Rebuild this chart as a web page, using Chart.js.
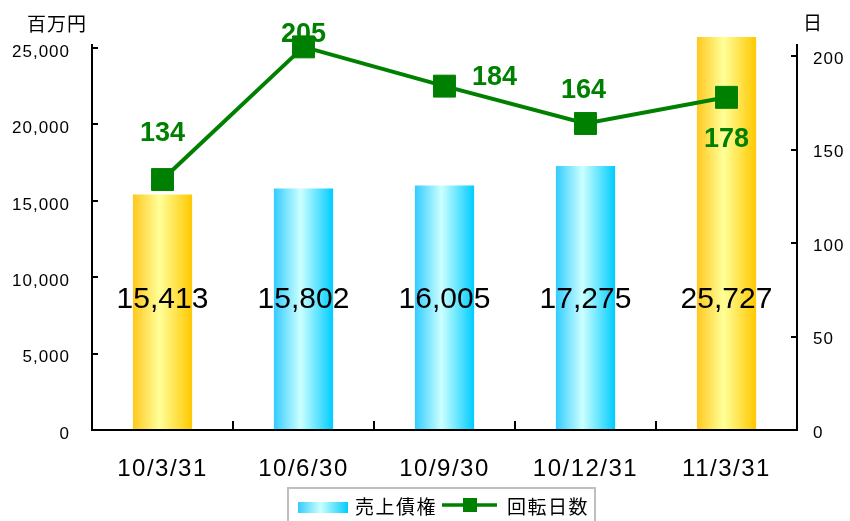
<!DOCTYPE html>
<html lang="ja">
<head>
<meta charset="utf-8">
<title>売上債権・回転日数</title>
<script src="https://cdn.jsdelivr.net/npm/chart.js@4.4.0/dist/chart.umd.min.js"></script>
<style>
    html, body { margin: 0; padding: 0; background: #fff; }
    #chart { display: block; }
</style>
</head>
<body>
<canvas id="chart" width="850" height="521"></canvas>
<script>
// ==========================================
// DATA
// ==========================================

const periods = ["10/3/31", "10/6/30", "10/9/30", "10/12/31", "11/3/31"];

const receivables = [15413, 15802, 16005, 17275, 25727];   // 売上債権 (百万円)

const turnoverDays = [134, 205, 184, 164, 178];            // 回転日数 (日)

const leftTicks = [0, 5000, 10000, 15000, 20000, 25000];

const rightTicks = [0, 50, 100, 150, 200];

// where each day label sits relative to its marker
const dayLabelOffsets = [[0, -46], [0, -12], [50, -9], [-2, -33], [0, 42]];

const BAR_PCT = 0.42;
const LATIN = "'Liberation Sans', Arial, sans-serif";
const CJK = "'Noto Sans CJK JP', sans-serif";

// ==========================================
// HELPERS
// ==========================================

function barGradient(ctx, left, right, yearEnd) {

    const g = ctx.createLinearGradient(left, 0, right, 0);

    if (yearEnd) {
        g.addColorStop(0, "#FFC81E");
        g.addColorStop(0.45, "#FFFF99");
        g.addColorStop(1, "#FFC800");
    } else {
        g.addColorStop(0, "#33CCFF");
        g.addColorStop(0.45, "#CCFFFF");
        g.addColorStop(1, "#00CCFF");
    }

    return g;
}

function line(ctx, x1, y1, x2, y2) {
    ctx.beginPath();
    ctx.moveTo(x1, y1);
    ctx.lineTo(x2, y2);
    ctx.stroke();
}

// ==========================================
// LABELS, INNER TICKS, LEGEND
// ==========================================

const decorPlugin = {

    id: "decor",

    beforeDraw(chart) {
        chart.ctx.letterSpacing = "1px";   // y axis tick labels
    },

    beforeDatasetsDraw(chart) {
        chart.ctx.letterSpacing = "0px";
    },

    afterDatasetsDraw(chart) {

        const ctx = chart.ctx;
        const area = chart.chartArea;
        const barMeta = chart.getDatasetMeta(0);
        const lineMeta = chart.getDatasetMeta(1);

        ctx.save();
        ctx.textAlign = "center";
        ctx.textBaseline = "middle";

        // bar values
        ctx.font = "30px " + LATIN;
        ctx.fillStyle = "#000";
        const barLabelY = area.top + (area.bottom - area.top) * 0.662;
        barMeta.data.forEach((bar, i) => {
            ctx.fillText(receivables[i].toLocaleString("en-US"), bar.x, barLabelY);
        });

        // day values
        ctx.font = "bold 27px " + LATIN;
        ctx.fillStyle = "#008000";
        lineMeta.data.forEach((pt, i) => {
            const off = dayLabelOffsets[i];
            ctx.fillText(String(turnoverDays[i]), pt.x + off[0], pt.y + off[1]);
        });

        ctx.restore();

        // x axis labels (ticks.z: 1) are drawn next
        ctx.letterSpacing = "1.5px";
    },

    afterDraw(chart) {

        const ctx = chart.ctx;
        const area = chart.chartArea;
        const xs = chart.scales.x;
        const yl = chart.scales.y;
        const yr = chart.scales.y1;

        ctx.letterSpacing = "0px";
        ctx.save();

        // inward tick marks
        ctx.strokeStyle = "#000";
        ctx.lineWidth = 2;
        yl.ticks.forEach(t => {
            const py = Math.round(yl.getPixelForValue(t.value));
            line(ctx, area.left, py, area.left + 6, py);
        });
        yr.ticks.forEach(t => {
            const py = Math.round(yr.getPixelForValue(t.value));
            line(ctx, area.right, py, area.right - 6, py);
        });
        for (let i = 1; i < periods.length; i++) {
            const px = Math.round((xs.getPixelForValue(i - 1) + xs.getPixelForValue(i)) / 2);
            line(ctx, px, area.bottom, px, area.bottom - 9);
        }

        // unit titles
        ctx.font = "19px " + CJK;
        ctx.fillStyle = "#000";
        ctx.textAlign = "center";
        ctx.textBaseline = "middle";
        ctx.letterSpacing = "1px";
        ctx.fillText("百万円", 57, 24);
        ctx.fillText("日", 813, 23);

        // legend
        const ds = chart.data.datasets;
        ctx.strokeStyle = "#BFBFBF";
        ctx.lineWidth = 2;
        ctx.strokeRect(288, 488, 307, 44);

        ctx.fillStyle = barGradient(ctx, 298, 348, false);
        ctx.fillRect(298, 502, 50, 11);

        ctx.strokeStyle = "#008000";
        ctx.lineWidth = 3.5;
        line(ctx, 442, 505, 497, 505);
        ctx.fillStyle = "#008000";
        ctx.fillRect(463, 498, 14, 14);

        ctx.fillStyle = "#000";
        ctx.textAlign = "left";
        ctx.letterSpacing = "1.5px";
        ctx.fillText(ds[0].label, 355, 507);
        ctx.fillText(ds[1].label, 507, 507);

        ctx.restore();
    }
};

// ==========================================
// CHART
// ==========================================

const canvas = document.getElementById("chart");

new Chart(canvas, {

    data: {

        labels: periods,

        datasets: [

            {
                type: "bar",
                label: "売上債権",
                data: receivables,
                yAxisID: "y",
                order: 2,
                clip: false,
                borderWidth: 0,
                barPercentage: BAR_PCT,
                categoryPercentage: 1,
                backgroundColor: function (c) {
                    const chart = c.chart;
                    if (c.type !== "data" || !chart.chartArea) {
                        return "#33CCFF";
                    }
                    const xs = chart.scales.x;
                    const cx = xs.getPixelForValue(c.dataIndex);
                    const half = (xs.width / periods.length) * BAR_PCT / 2;
                    const yearEnd = periods[c.dataIndex].endsWith("/3/31");
                    return barGradient(chart.ctx, cx - half, cx + half, yearEnd);
                },
            },

            {
                type: "line",
                label: "回転日数",
                data: turnoverDays,
                yAxisID: "y1",
                order: 1,
                clip: false,
                borderColor: "#008000",
                borderWidth: 4,
                tension: 0,
                pointStyle: "rect",
                pointRadius: 15.5,
                pointBackgroundColor: "#008000",
                pointBorderColor: "#008000",
                pointBorderWidth: 1,
            }

        ]

    },

    options: {

        responsive: false,

        animation: false,

        events: [],

        layout: {
            padding: { top: 45, left: 0, right: 0, bottom: 0 }
        },

        plugins: {
            legend: { display: false },
            tooltip: { enabled: false }
        },

        scales: {

            x: {
                offset: true,
                grid: { display: false, drawTicks: false },
                border: { display: true, color: "#000", width: 2, z: 1 },
                ticks: {
                    z: 1,
                    color: "#000",
                    font: { family: LATIN, size: 24 },
                    padding: 25,
                    maxRotation: 0,
                    autoSkip: false,
                },
                afterFit: function (s) { s.height = 91; }
            },

            y: {
                position: "left",
                min: 0,
                max: 25200,
                grid: { display: false, drawTicks: false },
                border: { display: true, color: "#000", width: 2 },
                ticks: {
                    color: "#000",
                    font: { family: LATIN, size: 17 },
                    padding: 22,
                    labelOffset: 4,
                    callback: v => v.toLocaleString("en-US"),
                },
                afterBuildTicks: function (s) {
                    s.ticks = leftTicks.map(v => ({ value: v }));
                },
                afterFit: function (s) { s.width = 92; }
            },

            y1: {
                position: "right",
                min: 0,
                max: 206,
                grid: { display: false, drawTicks: false },
                border: { display: true, color: "#000", width: 2 },
                ticks: {
                    color: "#000",
                    font: { family: LATIN, size: 17 },
                    padding: 16,
                    labelOffset: 3,
                },
                afterBuildTicks: function (s) {
                    s.ticks = rightTicks.map(v => ({ value: v }));
                },
                afterFit: function (s) { s.width = 53; }
            }

        }

    },

    plugins: [decorPlugin]

});
</script>
</body>
</html>
